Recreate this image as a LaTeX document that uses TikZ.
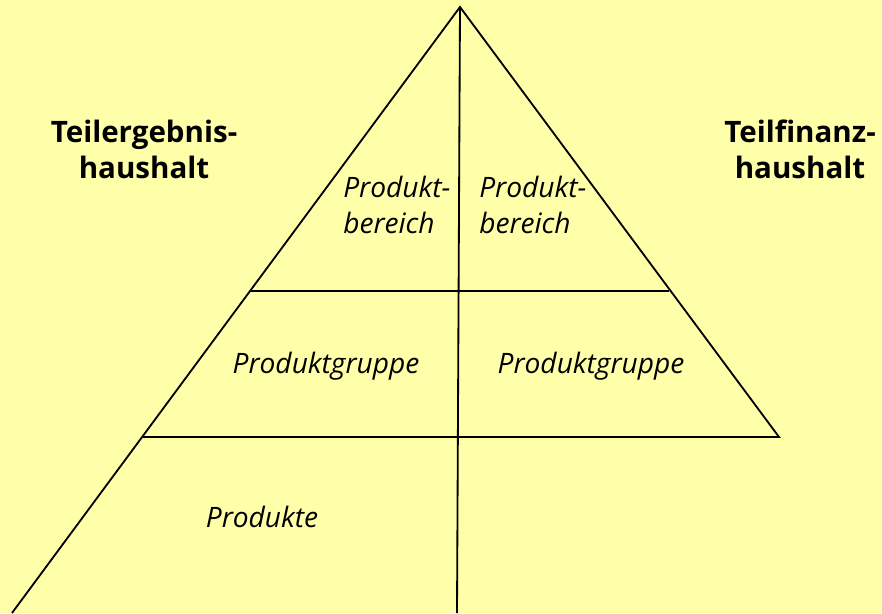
\documentclass[tikz,border=0pt]{standalone}
\usepackage{fontspec}
\setmainfont{Open Sans}
\definecolor{bgyellow}{RGB}{255,255,170}
\tikzset{
  haus/.style={font=\fontsize{21}{25.6}\selectfont\bfseries,align=center,inner sep=0pt,anchor=base},
  prod/.style={font=\fontsize{20}{25}\selectfont\itshape,inner sep=0pt,anchor=base},
  edge/.style={line width=1.3pt,color=black}
}
\begin{document}
\begin{tikzpicture}[x=0.025cm,y=-0.025cm]
\fill[bgyellow] (0,0) rectangle (882,613);
\useasboundingbox (0,0) rectangle (882,613);
\coordinate (A) at (460,7);
\coordinate (L1) at (250,291);
\coordinate (R1) at (669,291);
\coordinate (L2) at (142,437);
\coordinate (R2) at (779,437);
\coordinate (LB) at (12,613);
\coordinate (MB) at (457,613);
\draw[edge] (LB)--(A)--(R2)--(L2);
\draw[edge] (L1)--(R1);
\draw[edge] (A)--(MB);
\node[haus] (teh) at (144,178) {Teilergebnis-\\haushalt};
\node[haus] (tfh) at (800,178) {Teilfinanz-\\haushalt};
\node[prod,anchor=base west,align=left] (pbl) at (343,233) {Produkt-\\bereich};
\node[prod,anchor=base west,align=left] (pbr) at (479,233) {Produkt-\\bereich};
\node[prod] (pgl) at (326,373) {Produktgruppe};
\node[prod] (pgr) at (591,373) {Produktgruppe};
\node[prod] (pro) at (262,527) {Produkte};
\end{tikzpicture}
\end{document}
